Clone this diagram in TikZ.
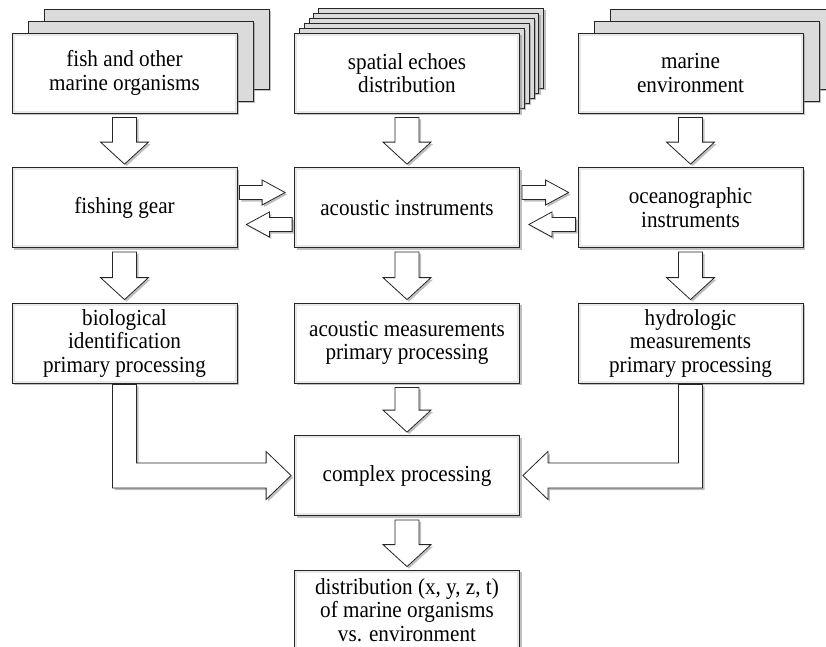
\documentclass[tikz,border=0pt]{standalone}
\usepackage{fontspec}
\setmainfont{Liberation Serif}[FakeStretch=0.92]
\usetikzlibrary{calc,shadows}

\begin{document}
\begin{tikzpicture}[x=1pt,y=1pt,
  shade/.style={drop shadow={shadow xshift=2pt,shadow yshift=-2pt,fill=black!50,opacity=.5}},
  box/.style={draw=black!85,line width=0.8pt,fill=white,shade,
    minimum width=225pt,minimum height=80pt,inner sep=2pt,align=center,
    font=\fontsize{23}{23.5}\selectfont,
    path picture={\draw[black!9,line width=5pt] (path picture bounding box.south west) rectangle (path picture bounding box.north east);}},
  layer/.style={draw=black!85,line width=0.8pt,fill=black!14,shade,
    minimum width=225pt,minimum height=80pt},
  blockarrow/.style={draw=black!85,line width=0.8pt,fill=white,shade}]
  \def\xa{124.5}
  \def\xb{407}
  \def\xc{690.5}
  % down arrow from one box to the next
  \def\vblock#1#2{\path[blockarrow] let \p1=(#1.south), \p2=(#2.north) in
    ({\x1-12pt},{\y1-4pt}) -- ({\x1+12pt},{\y1-4pt}) -- ({\x1+12pt},{\y2+25pt}) -- ({\x1+24pt},{\y2+25pt})
    -- ({\x1},{\y2+3pt}) -- ({\x1-24pt},{\y2+25pt}) -- ({\x1-12pt},{\y2+25pt}) -- cycle;}
  % side arrow between boxes of the middle row
  \def\hblock#1#2#3{\path[blockarrow] let \p1=($(#1)+(0,#3)$), \p2=(#2), \n1={sign(\x2-\x1)} in
    ({\x1+(\n1)*2pt},{\y1+7pt}) -- ({\x2-(\n1)*32pt},{\y1+7pt}) -- ({\x2-(\n1)*32pt},{\y1+12.5pt})
    -- ({\x2-(\n1)*9pt},{\y1}) -- ({\x2-(\n1)*32pt},{\y1-12.5pt}) -- ({\x2-(\n1)*32pt},{\y1-7pt})
    -- ({\x1+(\n1)*2pt},{\y1-7pt}) -- cycle;}
  % bent arrow into the complex processing box
  \def\bentblock#1#2{\path[blockarrow] let \p1=(#1.south), \p2=(#2), \n1={sign(\x2-\x1)} in
    ({\x1-(\n1)*12pt},{\y1-1pt}) -- ({\x1+(\n1)*12pt},{\y1-1pt}) -- ({\x1+(\n1)*12pt},{\y2+12.5pt})
    -- ({\x2-(\n1)*28pt},{\y2+12.5pt}) -- ({\x2-(\n1)*28pt},{\y2+24pt}) -- ({\x2-(\n1)*3pt},{\y2})
    -- ({\x2-(\n1)*28pt},{\y2-24pt}) -- ({\x2-(\n1)*28pt},{\y2-12.5pt}) -- ({\x1-(\n1)*12pt},{\y2-12.5pt}) -- cycle;}

  \useasboundingbox (0,0) rectangle (826,-646);
  \clip (0,0) rectangle (826,-646);

  \foreach \i in {2,1} \node[layer] at (\xa+16*\i,-73+12*\i) {};
  \foreach \i in {5,4,3,2,1} \node[layer] at (\xb+4.8*\i,-73+5*\i) {};
  \foreach \i in {2,1} \node[layer] at (\xc+16*\i,-73+12*\i) {};

  \node[box] (fish) at (\xa,-73) {fish and other\\marine organisms};
  \node[box] (echoes) at (\xb,-73) {spatial echoes\\distribution};
  \node[box] (environ) at (\xc,-73) {marine\\environment};

  \node[box] (gear) at (\xa,-207.5) {fishing gear};
  \node[box] (acinstr) at (\xb,-207.5) {acoustic instruments};
  \node[box] (ocinstr) at (\xc,-207.5) {oceanographic\\instruments};

  \node[box] (bioproc) at (\xa,-343) {biological\\identification\\primary processing};
  \node[box] (acproc) at (\xb,-343) {acoustic measurements\\primary processing};
  \node[box] (hydproc) at (\xc,-343) {hydrologic\\measurements\\primary processing};

  \node[box] (complex) at (\xb,-475.5) {complex processing};
  \node[box] (distrib) at (\xb,-610) {distribution (x, y, z, t)\\of marine organisms\\vs. environment};

  \vblock{fish}{gear}
  \vblock{echoes}{acinstr}
  \vblock{environ}{ocinstr}
  \vblock{gear}{bioproc}
  \vblock{acinstr}{acproc}
  \vblock{ocinstr}{hydproc}
  \vblock{acproc}{complex}
  \vblock{complex}{distrib}

  \hblock{gear.east}{acinstr.west}{15}
  \hblock{acinstr.west}{gear.east}{-17}
  \hblock{acinstr.east}{ocinstr.west}{15}
  \hblock{ocinstr.west}{acinstr.east}{-17}

  \bentblock{bioproc}{complex.west}
  \bentblock{hydproc}{complex.east}
\end{tikzpicture}
\end{document}
